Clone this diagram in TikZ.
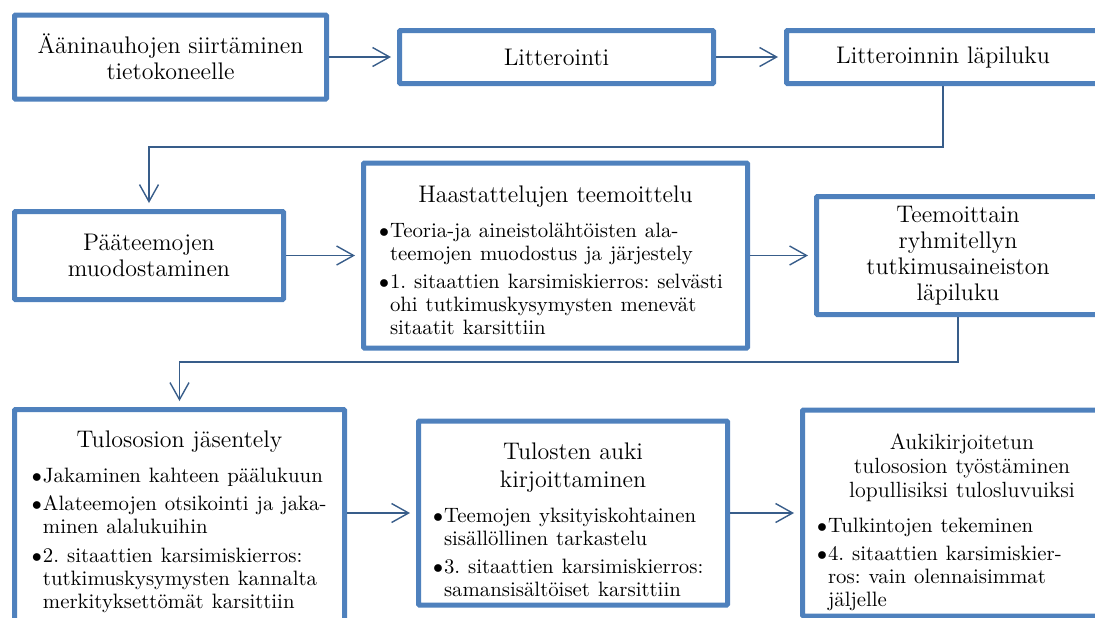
\documentclass[tikz,border=0pt]{standalone}
\usetikzlibrary{arrows.meta}
\definecolor{boxblue}{RGB}{79,129,189}
\definecolor{lineblue}{RGB}{56,93,138}
\frenchspacing
\newcommand{\hd}{\fontsize{12}{13}\selectfont}
\newcommand{\bt}{\fontsize{10.4}{11.5}\selectfont}
\newcommand{\ttl}[2][0pt]{{\centering\hd\rule{0pt}{\dimexpr 9pt+#1\relax}#2\par}\vspace{3.25pt}}
\newcommand{\itm}[1]{\par\bt\vspace{2.75pt}\rightskip=-20pt plus 1fil\hangindent=5.5pt\hangafter=1\noindent\makebox[5.5pt][l]{$\bullet$}{\def\\{\unskip\break}#1}\par}

\begin{document}
\begin{tikzpicture}[x=0.5pt,y=-0.5pt,
  box/.style={draw=boxblue,line width=2.5pt,rounded corners=0.5pt,fill=white,inner sep=0pt,font=\hd},
  flow/.style={draw=lineblue,line width=0.7pt,-{Straight Barb[length=8.5pt,width=9.5pt]},shorten >=3pt}]
\useasboundingbox (0,0) rectangle (1095,617);
\clip (0,0) rectangle (1095,617);

\node[box,minimum width=156pt,minimum height=42pt,align=center] (tv) at (170.5,57) {Ääninauhojen siirtäminen\\tietokoneelle};
\node[box,minimum width=157pt,minimum height=26.5pt] (litt) at (556.5,57) {Litterointi};
\node[box,minimum width=156.5pt,minimum height=26.5pt] (lapi) at (943,57) {Litteroinnin läpiluku};

\node[box,minimum width=134.5pt,minimum height=44pt,align=center] (paa) at (149,255.5) {Pääteemojen\\muodostaminen};
\node[box,minimum width=192pt,minimum height=92.5pt,text width=176.5pt,align=left] (haas) at (555.5,255.5) {\ttl[4pt]{Haastattelujen teemoittelu}
\itm{Teoria-ja aineistolähtöisten ala-\\teemojen muodostus ja järjestely}
\itm{1. sitaattien karsimiskierros: selvästi\\ohi tutkimuskysymysten menevät\\sitaatit karsittiin}};
\node[box,minimum width=141.5pt,minimum height=59pt,align=center] (teem) at (958,255.5) {Teemoittain\\ryhmitellyn\\tutkimusaineiston\\läpiluku};

\node[box,minimum width=165pt,minimum height=107.5pt,text width=147.5pt,align=left] (tulos) at (179.5,517) {\ttl[4pt]{Tulososion jäsentely}
\itm{Jakaminen kahteen päälukuun}
\itm{Alateemojen otsikointi ja jaka-\\minen alalukuihin}
\itm{2. sitaattien karsimiskierros:\\tutkimuskysymysten kannalta\\merkityksettömät karsittiin}};
\node[box,minimum width=154.5pt,minimum height=92pt,text width=140pt,align=left] (auki) at (573,513) {\ttl[6pt]{\fontsize{12}{14}\selectfont Tulosten auki\\kirjoittaminen}
\itm{Teemojen yksityiskohtainen\\sisällöllinen tarkastelu}
\itm{3. sitaattien karsimiskierros:\\samansisältöiset karsittiin}};
\node[box,minimum width=159.5pt,minimum height=103pt,text width=145pt,align=left] (aukik) at (962,513) {\ttl[8pt]{\fontsize{11}{12}\selectfont Aukikirjoitetun\\tulososion työstäminen\\lopullisiksi tulosluvuiksi}
\itm{Tulkintojen tekeminen}
\itm{4. sitaattien karsimiskier-\\ros: vain olennaisimmat\\jäljelle}};

\coordinate (k1) at (149,147);
\coordinate (k2) at (179.5,362);

\draw[flow] (tv) -- (litt);
\draw[flow] (litt) -- (lapi);
\draw[flow] (lapi.south) |- (k1) -- (paa.north);
\draw[flow] (paa) -- (haas);
\draw[flow] (haas) -- (teem);
\draw[flow] (teem.south) |- (k2) -- (tulos.north);
\draw[flow] (tulos.east |- auki.west) -- (auki.west);
\draw[flow] (auki) -- (aukik);
\end{tikzpicture}
\end{document}
